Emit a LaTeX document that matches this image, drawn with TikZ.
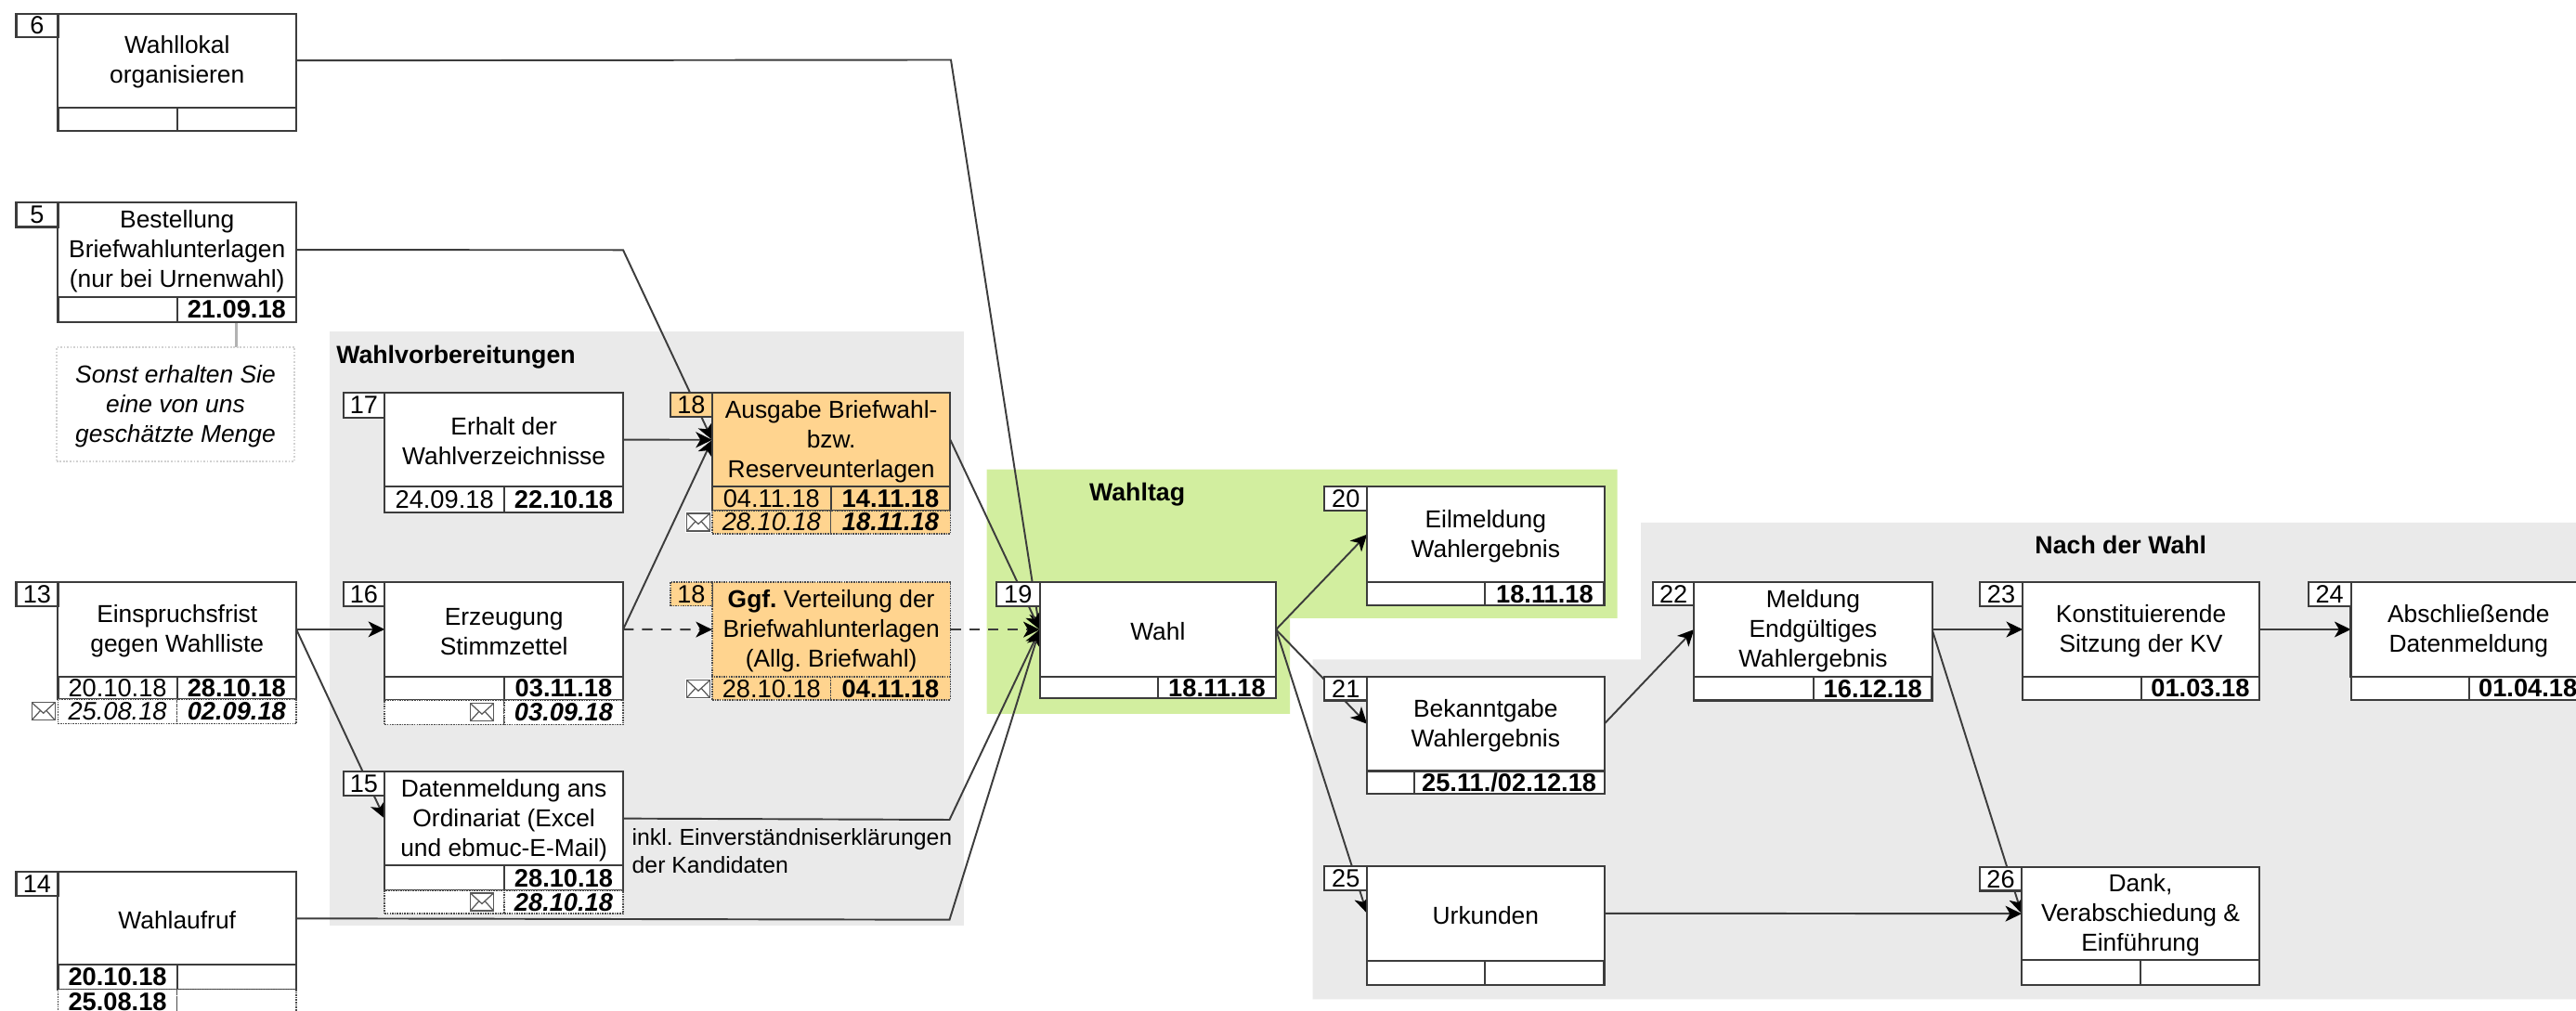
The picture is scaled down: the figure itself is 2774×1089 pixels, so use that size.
\documentclass[tikz,border=0pt]{standalone}
\usepackage{fontspec}
\setmainfont{Liberation Sans}
\usetikzlibrary{arrows.meta}
\definecolor{grp}{HTML}{EAEAEA}
\definecolor{grn}{HTML}{D2EE9F}
\definecolor{org}{HTML}{FFD48F}
\definecolor{ln}{HTML}{3C3C3C}
\pgfdeclarelayer{groups}
\pgfdeclarelayer{lines}
\pgfsetlayers{groups,lines,main}
\newcommand{\tl}{\rule{0pt}{6.5pt}}
\tikzset{
  base/.style={draw=ln,line width=0.6pt,fill=white,inner sep=0pt,outer sep=0pt,align=center,text=black,font=\frenchspacing\fontsize{7.5}{9.1}\selectfont},
  datecell/.style={font=\fontsize{7.75}{9}\selectfont},
  numcell/.style={font=\fontsize{7.7}{9}\selectfont},
  orangefill/.style={fill=org},
  dottedcell/.style={draw=black!70,line width=0.45pt,dash pattern=on 0.45pt off 0.3pt},
  conn/.style={draw=ln,line width=0.55pt,-{Stealth[length=5pt,width=4.8pt,inset=1.4pt,color=black]}},
  conndash/.style={conn,dash pattern=on 3.2pt off 2.6pt},
  grouptitle/.style={inner sep=0pt,font=\fontsize{7.6}{9}\selectfont\bfseries,anchor=base},
  plaintext/.style={inner sep=0pt,align=left,font=\frenchspacing\fontsize{7.05}{8.55}\selectfont,anchor=north west},
  notebox/.style={base,draw=black!18,line width=0.4pt,dash pattern=on 0.5pt off 0.5pt,font=\frenchspacing\fontsize{7.5}{9.1}\selectfont\itshape}
}
\newcommand{\cellb}[7][]{%
  \node[base,minimum width={(#5-#3)*0.28453pt},minimum height={(#6-#4)*0.28453pt},#1] (#2) at ({(#3+#5)/2},{(#4+#6)/2}) {#7};}
\newcommand{\envel}[3]{%
  \node[draw=none,fill=white,inner sep=0pt,minimum width=8pt,minimum height=6.4pt] (#1) at (#2,#3) {};
  \draw[black!65,line width=0.35pt] ({#2-12.5},{#3-9.5}) rectangle ({#2+12.5},{#3+9.5});
  \draw[black!65,line width=0.35pt] ({#2-12.5},{#3-9.5}) -- (#2,{#3+2}) -- ({#2+12.5},{#3-9.5});
  \draw[black!65,line width=0.35pt] ({#2-12.5},{#3+9.5}) -- ({#2-3},{#3-1}) ({#2+12.5},{#3+9.5}) -- ({#2+3},{#3-1});}
\begin{document}
\begin{tikzpicture}[x=0.01cm,y=-0.01cm]
\useasboundingbox (0,0) rectangle (2774,1089);
\begin{pgfonlayer}{groups}
  \fill[white] (0,0) rectangle (2774,1089);
  \fill[grp] (355,357) rectangle (1037.5,996.7);
  \fill[grn] (1062.6,505.6) -- (1741.7,505.6) -- (1741.7,666) -- (1389,666) -- (1389,769) -- (1062.6,769) -- cycle;
  \fill[grp] (1413.5,710.5) -- (1767,710.5) -- (1767,563) -- (2774,563) -- (2774,1076.3) -- (1413.5,1076.3) -- cycle;
\end{pgfonlayer}
\begin{scope}
\clip (0,0) rectangle (2774,1089);
\node[grouptitle,anchor=base west] (tvor) at (361.6,392) {Wahlvorbereitungen};
\node[grouptitle] (ttag) at (1224.6,540) {Wahltag};
\node[grouptitle] (tnach) at (2283.8,597) {Nach der Wahl};
% 6
\cellb{b6}{62.5}{14.7}{319}{115.7}{\tl Wahllokal\\organisieren}
\cellb[numcell]{n6}{17.5}{14.7}{62.5}{40}{6}
\cellb{l6}{62.5}{115.7}{190.6}{141.3}{}
\cellb{r6}{190.6}{115.7}{319}{141.3}{}
% 5
\cellb{b5}{62.5}{218.3}{319}{320}{\tl Bestellung\\Briefwahlunterlagen\\(nur bei Urnenwahl)}
\cellb[numcell]{n5}{17.5}{218.3}{62.5}{244.5}{5}
\cellb{l5}{62.5}{320}{190.6}{346.7}{}
\cellb[datecell]{r5}{190.6}{320}{319}{346.7}{\textbf{21.09.18}}
\cellb[notebox]{note5}{61}{374}{317}{497}{\tl Sonst erhalten Sie\\eine von uns\\geschätzte Menge}
% 13
\cellb{b13}{62.5}{626.7}{319}{729}{\tl Einspruchsfrist\\gegen Wahlliste}
\cellb[numcell]{n13}{17.5}{626.7}{62.5}{652.7}{13}
\cellb[datecell]{l13a}{62.5}{729}{190.6}{753.3}{20.10.18}
\cellb[datecell]{r13a}{190.6}{729}{319}{753.3}{\textbf{28.10.18}}
\cellb[datecell,dottedcell]{l13b}{62.5}{753.3}{190.6}{779.3}{\itshape 25.08.18}
\cellb[datecell,dottedcell]{r13b}{190.6}{753.3}{319}{779.3}{\bfseries\itshape 02.09.18}
\envel{e13}{46.7}{766.2}
% 14
\cellb{b14}{62.5}{939.3}{319}{1039.3}{\tl Wahlaufruf}
\cellb[numcell]{n14}{17.5}{939.3}{62.5}{965}{14}
\cellb[datecell]{l14a}{62.5}{1039.3}{190.6}{1065.7}{\textbf{20.10.18}}
\cellb{r14a}{190.6}{1039.3}{319}{1065.7}{}
\cellb[datecell,dottedcell]{l14b}{62.5}{1065.7}{190.6}{1092}{\textbf{25.08.18}}
\cellb[dottedcell]{r14b}{190.6}{1065.7}{319}{1092}{}
% 17
\cellb{b17}{414.3}{423.3}{671}{524}{\tl Erhalt der\\Wahlverzeichnisse}
\cellb[numcell]{n17}{369.6}{423.3}{414.3}{449.7}{17}
\cellb[datecell]{l17}{414.3}{524}{543}{552}{24.09.18}
\cellb[datecell]{r17}{543}{524}{671}{552}{\textbf{22.10.18}}
% 16
\cellb{b16}{414.3}{626.7}{671}{729}{\tl Erzeugung\\Stimmzettel}
\cellb[numcell]{n16}{369.6}{626.7}{414.3}{652.7}{16}
\cellb{l16a}{414.3}{729}{543}{754}{}
\cellb[datecell]{r16a}{543}{729}{671}{754}{\textbf{03.11.18}}
\cellb[dottedcell]{l16b}{414.3}{754}{543}{780.3}{}
\cellb[datecell,dottedcell]{r16b}{543}{754}{671}{780.3}{\bfseries\itshape 03.09.18}
\envel{e16}{519}{767.2}
% 15
\cellb{b15}{414.3}{831}{671}{932.3}{\tl Datenmeldung ans\\Ordinariat (Excel\\und ebmuc-E-Mail)}
\cellb[numcell]{n15}{369.6}{831}{414.3}{857}{15}
\cellb{l15a}{414.3}{932.3}{543}{959.3}{}
\cellb[datecell]{r15a}{543}{932.3}{671}{959.3}{\textbf{28.10.18}}
\cellb[dottedcell]{l15b}{414.3}{959.3}{543}{984}{}
\cellb[datecell,dottedcell]{r15b}{543}{959.3}{671}{984}{\bfseries\itshape 28.10.18}
\envel{e15}{519}{971.5}
\node[plaintext] (inkl) at (680,892) {inkl. Einverständniserklärungen\\der Kandidaten};
% 18a
\cellb[orangefill]{b18a}{767}{423.3}{1023.3}{524.3}{\tl Ausgabe Briefwahl-\\bzw.\\Reserveunterlagen}
\cellb[numcell,orangefill]{n18a}{722}{423.3}{767}{449.3}{18}
\cellb[datecell,orangefill]{l18a}{767}{524.3}{894.7}{550}{04.11.18}
\cellb[datecell,orangefill]{r18a}{894.7}{524.3}{1023.3}{550}{\textbf{14.11.18}}
\cellb[datecell,orangefill,dottedcell]{l18b}{767}{550}{894.7}{575}{\itshape 28.10.18}
\cellb[datecell,orangefill,dottedcell]{r18b}{894.7}{550}{1023.3}{575}{\bfseries\itshape 18.11.18}
\envel{e18a}{752}{562.5}
% 18b
\cellb[orangefill,dottedcell]{b18c}{767}{627}{1023.3}{729.3}{\tl\textbf{Ggf.} Verteilung der\\Briefwahlunterlagen\\(Allg. Briefwahl)}
\cellb[numcell,orangefill,dottedcell]{n18c}{722}{627}{767}{652.7}{18}
\cellb[datecell,orangefill,dottedcell]{l18c}{767}{729.3}{894.7}{754}{28.10.18}
\cellb[datecell,orangefill,dottedcell]{r18c}{894.7}{729.3}{1023.3}{754}{\textbf{04.11.18}}
\envel{e18c}{752}{742.2}
% 19
\cellb{b19}{1119.7}{627}{1374}{729.3}{\tl Wahl}
\cellb[numcell]{n19}{1072.9}{627}{1119.7}{652.7}{19}
\cellb{l19}{1119.7}{729.3}{1247}{752.3}{}
\cellb[datecell]{r19}{1247}{729.3}{1374}{752.3}{\textbf{18.11.18}}
% 20
\cellb{b20}{1472.2}{524.4}{1727.5}{627}{\tl Eilmeldung\\Wahlergebnis}
\cellb[numcell]{n20}{1426.3}{524.4}{1472.2}{549.6}{20}
\cellb{l20}{1472.2}{627}{1599.4}{652.3}{}
\cellb[datecell]{r20}{1599.4}{627}{1727.5}{652.3}{\textbf{18.11.18}}
% 21
\cellb{b21}{1472.2}{729}{1727.5}{830.5}{\tl Bekanntgabe\\Wahlergebnis}
\cellb[numcell]{n21}{1426.3}{729}{1472.2}{754.5}{21}
\cellb{l21}{1472.2}{830.5}{1522.7}{855.3}{}
\cellb[datecell]{r21}{1522.7}{830.5}{1727.5}{855.3}{\textbf{25.11./02.12.18}}
% 25
\cellb{b25}{1472.2}{933}{1727.5}{1034.6}{\tl Urkunden}
\cellb[numcell]{n25}{1426.3}{933}{1472.2}{959.4}{25}
\cellb{l25}{1472.2}{1034.6}{1599.4}{1061}{}
\cellb{r25}{1599.4}{1034.6}{1727.5}{1061}{}
% 22
\cellb{b22}{1824.4}{627}{2080.5}{729}{\tl Meldung\\Endgültiges\\Wahlergebnis}
\cellb[numcell]{n22}{1779.9}{627}{1824.4}{652.3}{22}
\cellb{l22}{1824.4}{729}{1953}{754.5}{}
\cellb[datecell]{r22}{1953}{729}{2080.5}{754.5}{\textbf{16.12.18}}
% 23
\cellb{b23}{2178.2}{627}{2432.9}{729}{\tl Konstituierende\\Sitzung der KV}
\cellb[numcell]{n23}{2131.8}{627}{2178.2}{652.7}{23}
\cellb{l23}{2178.2}{729}{2306}{754}{}
\cellb[datecell]{r23}{2306}{729}{2432.9}{754}{\textbf{01.03.18}}
% 24
\cellb{b24}{2531.6}{627}{2785}{729}{\tl Abschließende\\Datenmeldung}
\cellb[numcell]{n24}{2485.6}{627}{2531.6}{652.7}{24}
\cellb{l24}{2531.6}{729}{2659.4}{754}{}
\cellb[datecell]{r24}{2659.4}{729}{2785}{754}{\textbf{01.04.18}}
% 26
\cellb{b26}{2177.2}{934}{2432.9}{1034.4}{\tl Dank,\\Verabschiedung \&\\Einführung}
\cellb[numcell]{n26}{2131.8}{934}{2177.2}{959.5}{26}
\cellb{l26}{2177.2}{1034.4}{2305}{1061}{}
\cellb{r26}{2305}{1034.4}{2432.9}{1061}{}
\end{scope}
\coordinate (k6) at (1024,64.5);
\coordinate (k5) at (671,269.3);
\coordinate (k15) at (1022.5,883);
\coordinate (k14) at (1022.5,990.7);
\begin{pgfonlayer}{lines}
  \draw[black!30,line width=0.9pt] (r5.south) -- (r5.south |- note5.north);
  \draw[conn] (b6.east) -- (k6) -- (b19.west);
  \draw[conn] (b5.east) -- (k5) -- (b18a.west);
  \draw[conn] (b17.east) -- (b18a.west);
  \draw[conn] (b16.east) -- (b18a.west);
  \draw[conndash] (b16.east) -- (b18c.west);
  \draw[conn] (b13.east) -- (b16.west);
  \draw[conn] (b13.east) -- (b15.west);
  \draw[conn] (b15.east) -- (k15) -- (b19.west);
  \draw[conn] (b14.east) -- (k14) -- (b19.west);
  \draw[conn] (b18a.east) -- (b19.west);
  \draw[conndash] (b18c.east) -- (b19.west);
  \draw[conn] (b19.east) -- (b20.west);
  \draw[conn] (b19.east) -- (b21.west);
  \draw[conn] (b19.east) -- (b25.west);
  \draw[conn] (b21.east) -- (b22.west);
  \draw[conn] (b22.east) -- (b23.west);
  \draw[conn] (b22.east) -- (b26.west);
  \draw[conn] (b25.east) -- (b26.west);
  \draw[conn] (b23.east) -- (b24.west);
\end{pgfonlayer}
\end{tikzpicture}
\end{document}
